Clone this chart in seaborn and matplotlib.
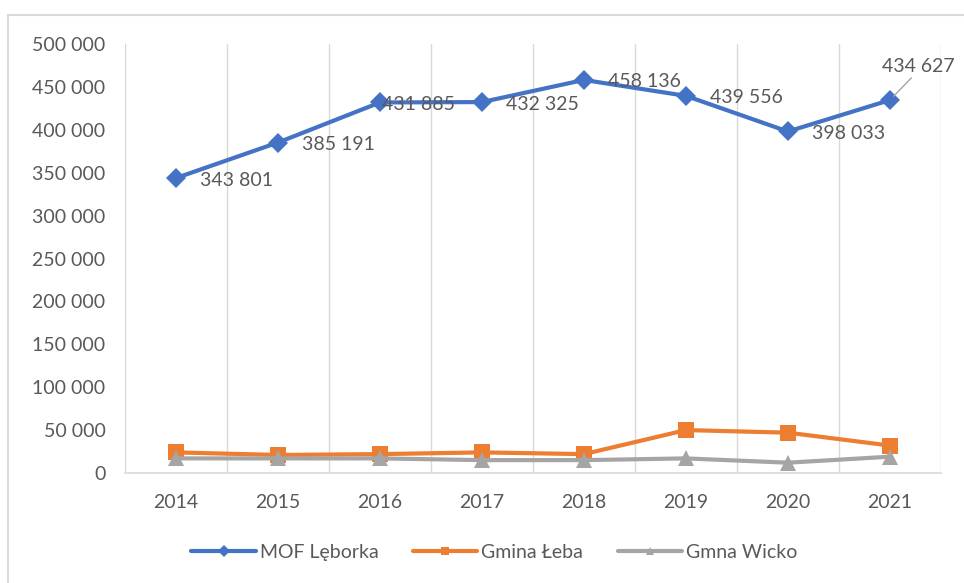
import pandas as pd
import matplotlib.pyplot as plt
import matplotlib.patches as patches
from matplotlib.ticker import FuncFormatter, MultipleLocator
import seaborn as sns

# Data
years = ['2014', '2015', '2016', '2017', '2018', '2019', '2020', '2021']
mof_leborka = [343801, 385191, 431885, 432325, 458136, 439556, 398033, 434627]
gmina_leba = [24000, 21000, 22000, 24000, 22000, 50000, 47000, 32000]
gmina_wicko = [17000, 17000, 17000, 15000, 15000, 17000, 12000, 19000]
series_names = ['MOF Lęborka', 'Gmina Łeba', 'Gmna Wicko']

df = pd.DataFrame({
    'Rok': years * 3,
    'Wartość': mof_leborka + gmina_leba + gmina_wicko,
    'Seria': [s for s in series_names for _ in years],
})
df['x'] = df['Rok'].map({y: i for i, y in enumerate(years)})

colors = ['#4472C4', '#ED7D31', '#A5A5A5']
markers = ['D', 's', '^']
msizes = [10, 12, 11]
text_col = '#595959'
grid_col = '#D9D9D9'

sns.set_theme(style='white')
plt.rcParams['font.family'] = ['Lato', 'DejaVu Sans']

fig = plt.figure(figsize=(9.64, 5.83), dpi=100)
ax = fig.add_axes([0.1297, 0.1887, 0.8463, 0.7358])

for name, c, m, ms in zip(series_names, colors, markers, msizes):
    sub = df[df['Seria'] == name]
    sns.lineplot(data=sub, x='x', y='Wartość', ax=ax, color=c, linewidth=3,
                 marker=m, markersize=ms, markeredgewidth=0, label=name)

# data labels for the main series
offsets = [(24, -2), (24, -2), (2, -2), (24, -2), (24, -2), (24, -2), (24, -2), None]
for i, (v, off) in enumerate(zip(mof_leborka, offsets)):
    lab = f'{v:,}'.replace(',', ' ')
    if off is None:
        ax.annotate(lab, xy=(i, v), xytext=(-8, 34), textcoords='offset pixels',
                    fontsize=14, color=text_col, ha='left', va='center',
                    arrowprops=dict(arrowstyle='-', color='#A5A5A5', lw=1,
                                    shrinkA=0, shrinkB=4,
                                    relpos=(0.45, 0.0)))
    else:
        ax.annotate(lab, xy=(i, v), xytext=off, textcoords='offset pixels',
                    fontsize=14, color=text_col, ha='left', va='center')

ax.set_xlim(-0.5, len(years) - 0.5)
ax.set_ylim(0, 500000)
ax.set_xticks(range(len(years)))
ax.set_xticklabels(years)
ax.xaxis.set_minor_locator(MultipleLocator(1, offset=0.5))
ax.yaxis.set_major_locator(MultipleLocator(50000))
ax.yaxis.set_major_formatter(FuncFormatter(lambda v, p: f'{int(v):,}'.replace(',', ' ')))
ax.grid(False)
ax.grid(True, which='minor', axis='x', color=grid_col, linewidth=1)
ax.tick_params(axis='x', which='major', length=0, pad=15, labelsize=14, labelcolor=text_col)
ax.tick_params(axis='x', which='minor', length=0)
ax.tick_params(axis='y', length=0, pad=14, labelsize=14, labelcolor=text_col)
for s in ['left', 'top', 'right']:
    ax.spines[s].set_visible(False)
ax.spines['bottom'].set_color(grid_col)
ax.spines['bottom'].set_linewidth(1.2)
ax.set_xlabel('')
ax.set_ylabel('')

leg = ax.legend(loc='center', bbox_to_anchor=(0.513, 0.053), bbox_transform=fig.transFigure,
                ncol=3, frameon=False, fontsize=14, handlelength=3.3, handletextpad=0.2,
                columnspacing=1.8, labelcolor=text_col)
for h in leg.legend_handles:
    h.set_markersize(6)

# outer chart frame
fig.patches.append(patches.Rectangle((8 / 964, -0.01), 1.0, 1 - 15 / 583 + 0.01,
                                     transform=fig.transFigure, fill=False,
                                     edgecolor=grid_col, linewidth=1.5))

fig.savefig('out.png', dpi=100)
